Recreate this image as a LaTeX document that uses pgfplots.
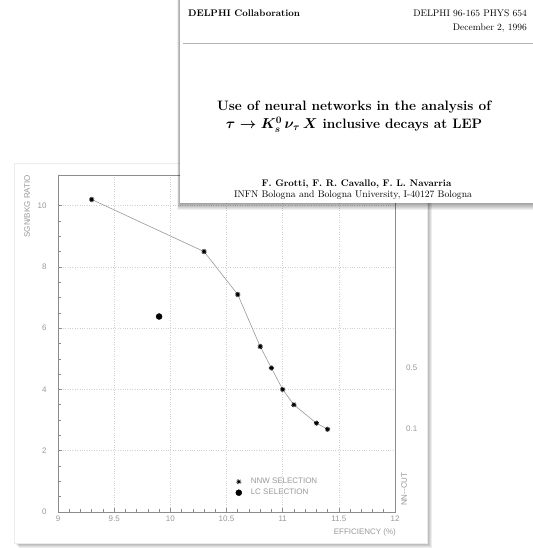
\documentclass[border=0pt]{standalone}
\usepackage{fontspec}
\newfontfamily\plotfont{Liberation Sans}
\usepackage{pgfplots}
\pgfplotsset{compat=1.18}
\usetikzlibrary{plotmarks}
\definecolor{axgray}{gray}{0.55}
\definecolor{txtgray}{gray}{0.6}
\definecolor{gridgray}{gray}{0.82}
\newcommand{\pf}{\plotfont\fontsize{8}{9}\selectfont}
\begin{document}
\begin{tikzpicture}[x=1bp,y=1bp]
\useasboundingbox[fill=white] (0,0) rectangle (533,548);
% plot card
\foreach \i in {1,...,5} { \fill[black,opacity=0.07] (14+\i,5-\i) rectangle (427+\i,385-\i); }
\fill[white] (14,5) rectangle (427,385);
\draw[gray!15] (14,5) rectangle (427,385);
\begin{axis}[
  at={(58bp,36bp)}, anchor=south west,
  scale only axis, width=337bp, height=337bp,
  xmin=9, xmax=12, ymin=0, ymax=11,
  xtick={9,9.5,10,10.5,11,11.5,12},
  ytick={0,2,4,6,8,10},
  minor x tick num=4, minor y tick num=3,
  tick align=inside, xtick pos=bottom, ytick pos=left,
  major tick length=4bp, minor tick length=2.5bp,
  axis line style={axgray, line width=0.9bp},
  every tick/.style={axgray, line width=0.6bp},
  grid=major, major grid style={gridgray, dotted, line width=0.6bp},
  ticklabel style={font=\pf, text=txtgray},
  yticklabel style={xshift=-8bp},
  /pgf/number format/assume math mode=true,
  legend style={at={(0.527,0.107)}, anchor=north west, draw=none, fill=none,
    font=\pf, text=txtgray, row sep=0pt, column sep=7bp, inner sep=0pt},
  legend cell align=left,
]
\addlegendimage{only marks, mark=10-pointed star, mark size=2.6bp, black}
\addlegendentry{NNW SELECTION}
\addlegendimage{only marks, mark=*, mark size=3bp, black}
\addlegendentry{LC SELECTION}
\addplot[gray!80, line width=0.6bp, mark=10-pointed star, mark size=2.6bp,
  mark options={black, fill=black}, forget plot] coordinates {
  (9.3,10.2) (10.3,8.5) (10.6,7.1) (10.8,5.4) (10.9,4.7)
  (11.0,4.0) (11.1,3.5) (11.3,2.9) (11.4,2.7)};
\addplot[only marks, mark=*, mark size=3bp, black, forget plot] coordinates {(9.9,6.38)};
\end{axis}
\node[font=\pf, text=txtgray, anchor=west, inner sep=0] at (406,180) {0.5};
\node[font=\pf, text=txtgray, anchor=west, inner sep=0] at (406,119) {0.1};
\node[font=\pf, text=txtgray, rotate=90, anchor=west, inner sep=0] at (404,42) {NN--CUT};
\node[font=\pf, text=txtgray, rotate=90, anchor=east, inner sep=0] at (27,373) {SGN/BKG RATIO};
\node[font=\pf, text=txtgray, anchor=east, inner sep=0] at (396,16) {EFFICIENCY (\%)};
% paper card
\foreach \i in {1,...,7} { \fill[black,opacity=0.06] (180-\i*0.4,345-\i) rectangle (533,548); }
\fill[white] (180,345) rectangle (533,548);
\draw[gray!60, line width=0.8bp] (183,505) -- (533,505);
\node[anchor=base west, inner sep=0, font=\fontsize{9.6}{11}\selectfont\bfseries] at (188,531) {DELPHI Collaboration};
\node[anchor=base east, inner sep=0, font=\fontsize{9.55}{11}\selectfont] at (527,531) {DELPHI 96-165 PHYS 654};
\node[anchor=base east, inner sep=0, font=\fontsize{9.55}{11}\selectfont] at (527,517) {December 2, 1996};
\node[anchor=base, inner sep=0, text depth=1bp, font=\fontsize{13.7}{16}\selectfont\bfseries] at (354,437) {Use of neural networks in the analysis of};
\node[anchor=base, inner sep=0, text height=9bp, font=\fontsize{13.7}{16}\selectfont\bfseries\boldmath] at (354,419.5) {$\tau\rightarrow K^0_s\,\nu_\tau\,X$ inclusive decays at LEP};
\node[anchor=base, inner sep=0, font=\fontsize{9.6}{11}\selectfont\bfseries] at (356.5,361) {F. Grotti, F. R. Cavallo, F. L. Navarria};
\node[anchor=base, inner sep=0, font=\fontsize{9.7}{11}\selectfont] at (353,350) {INFN Bologna and Bologna University, I-40127 Bologna};
\end{tikzpicture}
\end{document}
